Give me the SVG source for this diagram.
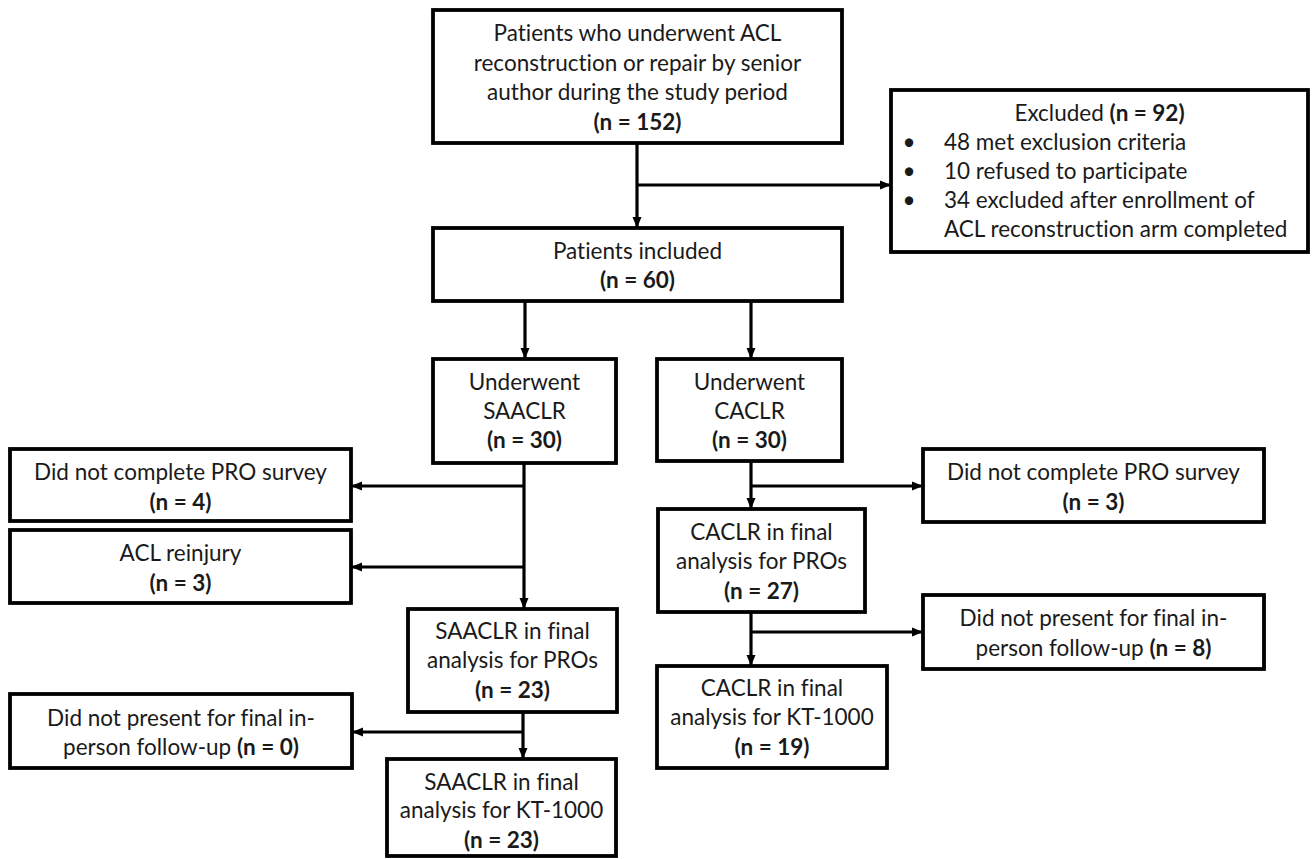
<svg xmlns="http://www.w3.org/2000/svg" width="1312" height="859" viewBox="0 0 1312 859">
<defs>
<marker id="arr" markerUnits="userSpaceOnUse" markerWidth="12" markerHeight="12" viewBox="0 0 12 12" refX="11" refY="6" orient="auto">
<path d="M0,1.5 L11,6 L0,10.5 Z" fill="#000"/>
</marker>
<style>
.box{fill:#fff;stroke:#000;stroke-width:3.8}
.t{font-family:Lato,"Noto Sans",sans-serif;font-size:22.5px;fill:#1a1a1a;text-anchor:middle;font-variant-ligatures:none}
.l{text-anchor:start}
.b{font-weight:bold}
.c{fill:none;stroke:#000;stroke-width:3.2}
.a{fill:none;stroke:#000;stroke-width:3.2;marker-end:url(#arr)}
</style>
</defs>
<rect width="1312" height="859" fill="#fff"/>
<g id="connectors">
<path class="c" d="M637,143 V185"/>
<path class="a" d="M637,185 V228"/>
<path class="a" d="M637,185 H891"/>
<path class="a" d="M525,301 V359"/>
<path class="a" d="M751,301 V359"/>
<path class="a" d="M524,463 V609"/>
<path class="a" d="M524,486 H351"/>
<path class="a" d="M524,567 H351"/>
<path class="a" d="M523,712 V759"/>
<path class="a" d="M523,732 H352"/>
<path class="a" d="M751,461 V509"/>
<path class="a" d="M751,486 H923"/>
<path class="a" d="M751,612 V666"/>
<path class="a" d="M751,632 H923"/>
</g>
<g id="n-start">
<rect class="box" x="433" y="10" width="409" height="133"/>
<text class="t" x="637.5" y="41">Patients who underwent ACL</text>
<text class="t" x="637.5" y="71">reconstruction or repair by senior</text>
<text class="t" x="637.5" y="100">author during the study period</text>
<text class="t b" x="637.5" y="130">(n = 152)</text>
</g>
<g id="n-excluded">
<rect class="box" x="891" y="90" width="417" height="162"/>
<text class="t" x="1099.5" y="121">Excluded <tspan class="b">(n = 92)</tspan></text>
<text class="t" x="909" y="150">•</text>
<text class="t l" x="944" y="150">48 met exclusion criteria</text>
<text class="t" x="909" y="179">•</text>
<text class="t l" x="944" y="179">10 refused to participate</text>
<text class="t" x="909" y="208">•</text>
<text class="t l" x="944" y="208">34 excluded after enrollment of</text>
<text class="t l" x="944" y="237">ACL reconstruction arm completed</text>
</g>
<g id="n-included">
<rect class="box" x="433" y="228" width="409" height="73"/>
<text class="t" x="637.5" y="259">Patients included</text>
<text class="t b" x="637.5" y="288">(n = 60)</text>
</g>
<g id="n-saaclr">
<rect class="box" x="433" y="359" width="183" height="104"/>
<text class="t" x="524.5" y="390">Underwent</text>
<text class="t" x="524.5" y="419">SAACLR</text>
<text class="t b" x="524.5" y="448">(n = 30)</text>
</g>
<g id="n-caclr">
<rect class="box" x="657" y="359" width="185" height="102"/>
<text class="t" x="749.5" y="390">Underwent</text>
<text class="t" x="749.5" y="419">CACLR</text>
<text class="t b" x="749.5" y="448">(n = 30)</text>
</g>
<g id="n-sa-nopro">
<rect class="box" x="10" y="449" width="341" height="72"/>
<text class="t" x="180.5" y="480">Did not complete PRO survey</text>
<text class="t b" x="180.5" y="510">(n = 4)</text>
</g>
<g id="n-sa-reinjury">
<rect class="box" x="10" y="530" width="341" height="73"/>
<text class="t" x="180.5" y="561">ACL reinjury</text>
<text class="t b" x="180.5" y="591">(n = 3)</text>
</g>
<g id="n-sa-pros">
<rect class="box" x="408" y="609" width="209" height="103"/>
<text class="t" x="512.5" y="639">SAACLR in final</text>
<text class="t" x="512.5" y="668">analysis for PROs</text>
<text class="t b" x="512.5" y="698">(n = 23)</text>
</g>
<g id="n-sa-nofollow">
<rect class="box" x="10" y="694" width="342" height="74"/>
<text class="t" x="181" y="726">Did not present for final in-</text>
<text class="t" x="181" y="755">person follow-up <tspan class="b">(n = 0)</tspan></text>
</g>
<g id="n-sa-kt">
<rect class="box" x="387" y="759" width="229" height="97"/>
<text class="t" x="501.5" y="790">SAACLR in final</text>
<text class="t" x="501.5" y="818">analysis for KT-1000</text>
<text class="t b" x="501.5" y="848">(n = 23)</text>
</g>
<g id="n-ca-nopro">
<rect class="box" x="923" y="449" width="341" height="73"/>
<text class="t" x="1093.5" y="480">Did not complete PRO survey</text>
<text class="t b" x="1093.5" y="510">(n = 3)</text>
</g>
<g id="n-ca-pros">
<rect class="box" x="658" y="509" width="207" height="103"/>
<text class="t" x="761.5" y="540">CACLR in final</text>
<text class="t" x="761.5" y="569">analysis for PROs</text>
<text class="t b" x="761.5" y="599">(n = 27)</text>
</g>
<g id="n-ca-nofollow">
<rect class="box" x="923" y="595" width="341" height="74"/>
<text class="t" x="1093.5" y="626">Did not present for final in-</text>
<text class="t" x="1093.5" y="656">person follow-up <tspan class="b">(n = 8)</tspan></text>
</g>
<g id="n-ca-kt">
<rect class="box" x="657" y="666" width="230" height="102"/>
<text class="t" x="772" y="696">CACLR in final</text>
<text class="t" x="772" y="725">analysis for KT-1000</text>
<text class="t b" x="772" y="755">(n = 19)</text>
</g>
</svg>
